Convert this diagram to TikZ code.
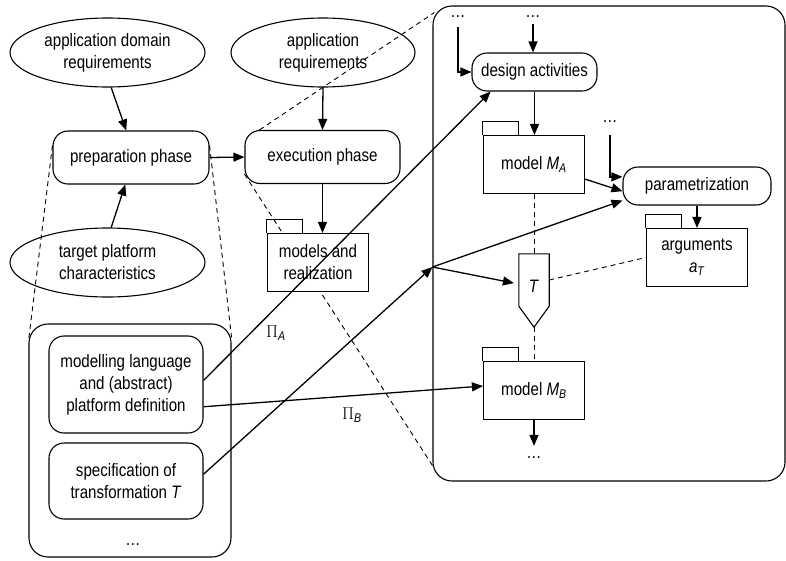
\documentclass[tikz,border=0pt]{standalone}
\usepackage{fontspec}
\setmainfont[FakeStretch=0.84]{Liberation Sans}
\usetikzlibrary{shapes.geometric,arrows.meta,calc,backgrounds}

\begin{document}
\begin{tikzpicture}[x=1pt,y=-1pt,
  every node/.style={font=\fontsize{18}{22}\selectfont},
  req/.style={ellipse, draw, line width=1.1pt, inner sep=0pt, align=center},
  phase/.style={rectangle, draw, fill=white, rounded corners=15pt, line width=1.1pt, inner sep=0pt, align=center},
  folder/.style={rectangle, draw, fill=white, line width=1.1pt, inner sep=0pt, minimum width=101pt, minimum height=58pt, align=center},
  area/.style={rectangle, draw, rounded corners=19pt, line width=1.1pt, inner sep=0pt},
  flow/.style={-{Triangle[length=11pt,width=9pt]}, line width=1.3pt},
  link/.style={line width=0.9pt, dash pattern=on 5pt off 4pt},
  more/.style={inner sep=0pt}]

\useasboundingbox (0,0) rectangle (786,560);

% the two frames
\node[area, minimum width=352pt, minimum height=475pt] (execarea) at (609,243.5) {};
\node[area, minimum width=202pt, minimum height=233pt] (preparea) at (130,440.5) {};

% requirements
\node[req, minimum width=195pt, minimum height=69pt] (domreq) at (107.5,52.5) {application domain\\requirements};
\node[req, minimum width=184pt, minimum height=69pt] (appreq) at (323,52.5) {application\\requirements};
\node[req, minimum width=195pt, minimum height=69pt] (platform) at (107.5,262.5) {target platform\\characteristics};

% phases and activities
\node[phase, minimum width=156pt, minimum height=53pt] (prep) at (131,157.5) {preparation phase};
\node[phase, minimum width=155pt, minimum height=53pt] (exec) at (322.5,157) {execution phase};
\node[phase, minimum width=125pt, minimum height=38pt] (design) at (534.5,72) {design activities};
\node[phase, minimum width=148pt, minimum height=38pt] (param) at (697,186) {parametrization};
\node[phase, minimum width=154pt, minimum height=97pt] (lang) at (126,384.5) {modelling language\\and (abstract)\\platform definition};
\node[phase, minimum width=154pt, minimum height=76pt] (spec) at (126,481) {specification of\\transformation \textit{T}};

% models
\node[folder] (models) at (318,262.5) {models and\\realization};
\node[folder] (MA) at (534,164.5) {model \textit{M}\textsubscript{\textit{A}}};
\node[folder] (args) at (697,257.5) {arguments\\\textit{a}\textsubscript{\textit{T}}};
\node[folder] (MB) at (534,390.5) {model \textit{M}\textsubscript{\textit{B}}};
\foreach \f in {models,MA,args,MB}
  \draw[line width=1pt] (\f.north west) -- ++(0,-13) -- ++(36,0) -- ++(0,13);

% transformation T
\node[minimum width=30pt, minimum height=52pt, inner sep=0pt, text height=25pt, text depth=0pt] (T) at (534,280) {\textit{T}};
\coordinate (Ttip) at ($(T.south)+(0,21)$);
\draw[line width=1.1pt] (T.north west) -- (T.north east) -- (T.south east) -- (Ttip) -- (T.south west) -- cycle;

% continuation dots
\node[more] (dotsL) at (458,17) {\ldots};
\node[more] (dotsR) at (533,17) {\ldots};
\node[more] (dotsP) at (610,122) {\ldots};
\node[more] (dotsB) at (534,458) {\ldots};
\node[more] (dotsE) at (133,545) {\ldots};

\node (piA) at (276,333) {$\Pi$\textsubscript{\textit{A}}};
\node (piB) at (352,415) {$\Pi$\textsubscript{\textit{B}}};

\coordinate (hub) at (execarea.west |- 0,267);

% flow
\draw[flow] (domreq.-84) -- (prep.100);
\draw[flow] (platform.84) -- (prep.-102);
\draw[flow] (prep.east) -- (exec.west);
\draw[flow] (appreq.south) -- (exec.north);
\draw[flow] (exec.south) -- (exec.south |- models.north);
\draw[flow, shorten <=9pt] (dotsL.south) |- (design.west);
\draw[flow, shorten <=6pt] (dotsR.south) -- (dotsR.south |- design.north);
\draw[flow] (design.south) -- (design.south |- MA.north);
\draw[flow, shorten <=12pt] (dotsP.south) |- (param.173);
\draw[flow] (MA.-16) -- (param.184);
\draw[flow] (param.south) -- (param.south |- args.north);
\draw[flow, shorten >=11pt] (MB.south) -- (MB.south |- dotsB.north);
\draw[flow] (lang.3) -- (design.204);
\draw[flow] (lang.-16) -- (MB.175);
\draw[flow] (spec.5) -- (hub);
\draw[flow] (hub) -- (param.191);
\draw[flow, shorten >=5pt] (hub) -- (T.195);

% refinement traces
\begin{scope}[on background layer]
\draw[link] ($(prep.north west)+(0,15)$) -- ($(preparea.north west)+(0,18)$);
\draw[link] ($(prep.north east)+(0,15)$) -- ($(preparea.north east)+(0,14)$);
\draw[link] ($(exec.north west)+(15,0)$) -- ($(execarea.north west)+(2,7)$);
\draw[link] ($(exec.south west)+(0,-10)$) -- ($(execarea.south west)+(0,-16)$);
\draw[link] (MA.south) -- (T.north);
\draw[link] (T.east) -- (args.west);
\draw[link] (Ttip) -- (MB.north);
\end{scope}

\end{tikzpicture}
\end{document}
